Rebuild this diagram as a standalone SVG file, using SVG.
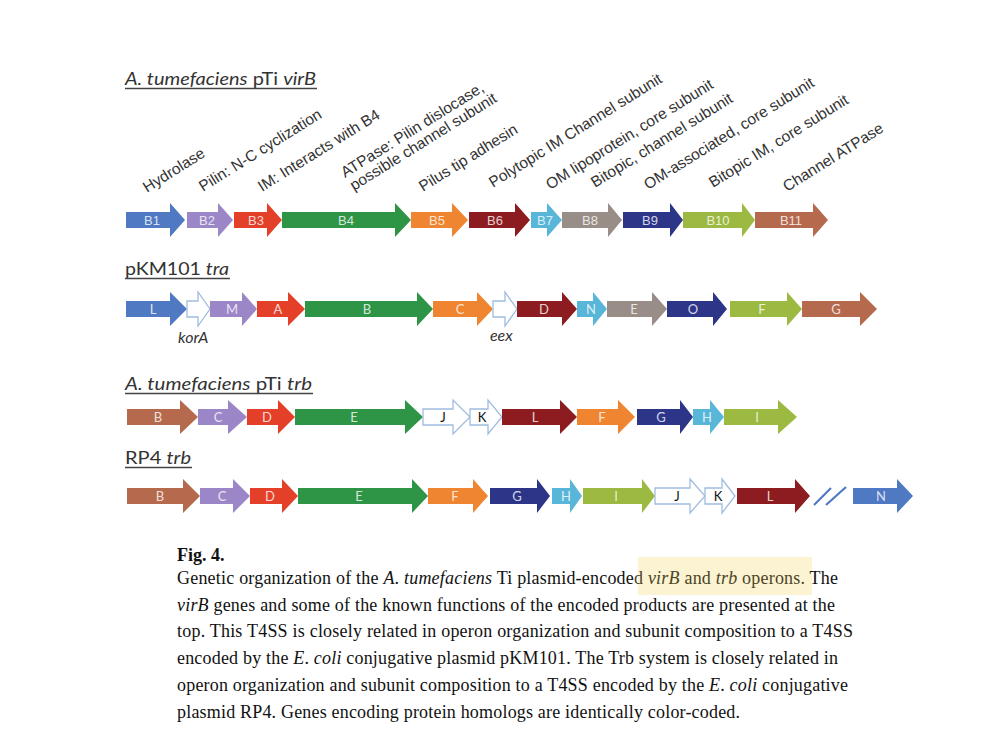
<svg xmlns="http://www.w3.org/2000/svg" width="1000" height="750" viewBox="0 0 1000 750">
<defs>
<style>
.ttl{font-family:Lato,"Open Sans","Liberation Sans",sans-serif;font-size:17px;fill:#333}
.ul{stroke:#444;stroke-width:1.3}
.fn{font-family:"Liberation Sans",Arial,sans-serif;font-size:15.5px;fill:#333}
.gl{font-family:"Liberation Sans",Arial,sans-serif;font-size:13px;fill:#fff;fill-opacity:0.8;text-anchor:middle}
.gl2{font-family:Lato,"Open Sans",sans-serif;font-size:13px;fill:#fff;fill-opacity:0.8;text-anchor:middle}
.glk{font-family:Lato,"Open Sans",sans-serif;font-size:13px;fill:#111;text-anchor:middle}
.it{font-style:italic}
.cap{font-family:"Liberation Serif","Times New Roman",serif;font-size:18px;fill:#111}
.blue{fill:#4f79c2}.lav{fill:#9b87c8}.red{fill:#e33f29}.grn{fill:#2e9446}.org{fill:#ef8530}
.drd{fill:#8c1c20}.lbl{fill:#58b6d9}.gry{fill:#988d87}.nav{fill:#2d3589}.olv{fill:#9cb941}.brn{fill:#b5694d}
.wht{fill:#fff;stroke:#9fbce0;stroke-width:1.3}
path{stroke-linejoin:miter}
</style>
</defs>
<rect width="1000" height="750" fill="#fff"/>

<!-- titles -->
<g id="title-virB">
<text class="ttl" x="125" y="85" textLength="191" lengthAdjust="spacingAndGlyphs"><tspan class="it">A. tumefaciens</tspan> pTi <tspan class="it">virB</tspan></text>
<line class="ul" x1="125" y1="88.5" x2="317" y2="88.5"/>
</g>
<g id="title-tra">
<text class="ttl" x="125" y="275" textLength="104" lengthAdjust="spacingAndGlyphs">pKM101 <tspan class="it">tra</tspan></text>
<line class="ul" x1="125" y1="278.5" x2="230" y2="278.5"/>
</g>
<g id="title-trb">
<text class="ttl" x="125" y="390" textLength="187" lengthAdjust="spacingAndGlyphs"><tspan class="it">A. tumefaciens</tspan> pTi <tspan class="it">trb</tspan></text>
<line class="ul" x1="125" y1="393.5" x2="313" y2="393.5"/>
</g>
<g id="title-rp4">
<text class="ttl" x="125" y="464" textLength="66" lengthAdjust="spacingAndGlyphs">RP4 <tspan class="it">trb</tspan></text>
<line class="ul" x1="125" y1="467.5" x2="192" y2="467.5"/>
</g>

<!-- function labels -->
<g id="functions" class="fn">
<text transform="translate(147,193) rotate(-32)">Hydrolase</text>
<text transform="translate(203,192) rotate(-32)">Pilin: N-C cyclization</text>
<text transform="translate(262,192) rotate(-32)">IM: Interacts with B4</text>
<text transform="translate(345,178) rotate(-32)">ATPase: Pilin dislocase,</text>
<text transform="translate(354,191) rotate(-32)">possible channel subunit</text>
<text transform="translate(423,192) rotate(-32)">Pilus tip adhesin</text>
<text transform="translate(493,188) rotate(-32)">Polytopic IM Channel subunit</text>
<text transform="translate(550,190) rotate(-32)">OM lipoprotein, core subunit</text>
<text transform="translate(595,188) rotate(-32)">Bitopic, channel subunit</text>
<text transform="translate(648,190) rotate(-32)">OM-associated, core subunit</text>
<text transform="translate(713,188) rotate(-32)">Bitopic IM, core subunit</text>
<text transform="translate(787,192) rotate(-32)">Channel ATPase</text>
</g>

<!-- row 1: virB, centre y 220 -->
<g id="virB-row">
<g id="B1"><path class="blue" d="M126,212 H170 V203 L185,220 L170,237 V228 H126 Z"/><text class="gl" x="152" y="224.5">B1</text></g>
<g id="B2"><path class="lav" d="M187,212 H218 V203 L233,220 L218,237 V228 H187 Z"/><text class="gl" x="207" y="224.5">B2</text></g>
<g id="B3"><path class="red" d="M234,212 H267 V203 L282,220 L267,237 V228 H234 Z"/><text class="gl" x="256" y="224.5">B3</text></g>
<g id="B4"><path class="grn" d="M282,212 H395 V203 L411,220 L395,237 V228 H282 Z"/><text class="gl" x="346" y="224.5">B4</text></g>
<g id="B5"><path class="org" d="M411,212 H452 V203 L468,220 L452,237 V228 H411 Z"/><text class="gl" x="437" y="224.5">B5</text></g>
<g id="B6"><path class="drd" d="M469,212 H515 V203 L530,220 L515,237 V228 H469 Z"/><text class="gl" x="495" y="224.5">B6</text></g>
<g id="B7"><path class="lbl" d="M531,212 H547 V203 L562,220 L547,237 V228 H531 Z"/><text class="gl" x="545" y="224.5">B7</text></g>
<g id="B8"><path class="gry" d="M562,212 H608 V203 L622,220 L608,237 V228 H562 Z"/><text class="gl" x="590" y="224.5">B8</text></g>
<g id="B9"><path class="nav" d="M623,212 H670 V203 L683,220 L670,237 V228 H623 Z"/><text class="gl" x="650" y="224.5">B9</text></g>
<g id="B10"><path class="olv" d="M683,212 H742 V203 L755,220 L742,237 V228 H683 Z"/><text class="gl" x="718" y="225">B10</text></g>
<g id="B11"><path class="brn" d="M755,212 H813 V203 L828,220 L813,237 V228 H755 Z"/><text class="gl" x="791" y="225">B11</text></g>
</g>

<!-- row 2: pKM101 tra, centre y 309 -->
<g id="tra-row">
<g id="traL"><path class="blue" d="M126,301 H170 V292 L187,309 L170,326 V317 H126 Z"/><text class="gl2" x="153" y="313.5">L</text></g>
<g id="korA"><path class="wht" d="M187,301 H198 V292 L210,309 L198,326 V317 H187 Z"/><text class="ttl it" x="178" y="343" style="font-size:16px">korA</text></g>
<g id="traM"><path class="lav" d="M210,301 H242 V292 L257,309 L242,326 V317 H210 Z"/><text class="gl2" x="232" y="313.5">M</text></g>
<g id="traA"><path class="red" d="M257,301 H288 V292 L305,309 L288,326 V317 H257 Z"/><text class="gl2" x="278" y="313.5">A</text></g>
<g id="traB"><path class="grn" d="M305,301 H417 V292 L433,309 L417,326 V317 H305 Z"/><text class="gl2" x="367" y="313.5">B</text></g>
<g id="traC"><path class="org" d="M433,301 H477 V292 L493,309 L477,326 V317 H433 Z"/><text class="gl2" x="460" y="313.5">C</text></g>
<g id="eex"><path class="wht" d="M493,301 H505 V292 L517,309 L505,326 V317 H493 Z"/><text class="ttl it" x="490" y="341" style="font-size:16px">eex</text></g>
<g id="traD"><path class="drd" d="M517,301 H562 V292 L577,309 L562,326 V317 H517 Z"/><text class="gl2" x="544" y="313.5">D</text></g>
<g id="traN"><path class="lbl" d="M577,301 H593 V292 L607,309 L593,326 V317 H577 Z"/><text class="gl2" x="591" y="313.5">N</text></g>
<g id="traE"><path class="gry" d="M607,301 H652 V292 L667,309 L652,326 V317 H607 Z"/><text class="gl2" x="634" y="313.5">E</text></g>
<g id="traO"><path class="nav" d="M667,301 H713 V292 L727,309 L713,326 V317 H667 Z"/><text class="gl2" x="693" y="313.5">O</text></g>
<g id="traF"><path class="olv" d="M730,301 H787 V292 L802,309 L787,326 V317 H730 Z"/><text class="gl2" x="762" y="313.5">F</text></g>
<g id="traG"><path class="brn" d="M802,301 H860 V292 L877,309 L860,326 V317 H802 Z"/><text class="gl2" x="836" y="313.5">G</text></g>
</g>

<!-- row 3: pTi trb, centre y 417 -->
<g id="trb-row">
<g id="trbB"><path class="brn" d="M127,409 H180 V400 L198,417 L180,434 V425 H127 Z"/><text class="gl2" x="158" y="421.5">B</text></g>
<g id="trbC"><path class="lav" d="M198,409 H228 V400 L247,417 L228,434 V425 H198 Z"/><text class="gl2" x="218" y="421.5">C</text></g>
<g id="trbD"><path class="red" d="M247,409 H278 V400 L295,417 L278,434 V425 H247 Z"/><text class="gl2" x="267" y="421.5">D</text></g>
<g id="trbE"><path class="grn" d="M295,409 H405 V400 L423,417 L405,434 V425 H295 Z"/><text class="gl2" x="354" y="421.5">E</text></g>
<g id="trbJ"><path class="wht" d="M423,409 H453 V400 L470,417 L453,434 V425 H423 Z"/><text class="glk" x="443" y="421.5">J</text></g>
<g id="trbK"><path class="wht" d="M470,409 H488 V400 L502,417 L488,434 V425 H470 Z"/><text class="glk" x="482" y="421.5">K</text></g>
<g id="trbL"><path class="drd" d="M502,409 H560 V400 L577,417 L560,434 V425 H502 Z"/><text class="gl2" x="535" y="421.5">L</text></g>
<g id="trbF"><path class="org" d="M577,409 H618 V400 L635,417 L618,434 V425 H577 Z"/><text class="gl2" x="602" y="421.5">F</text></g>
<g id="trbG"><path class="nav" d="M637,409 H680 V400 L693,417 L680,434 V425 H637 Z"/><text class="gl2" x="661" y="421.5">G</text></g>
<g id="trbH"><path class="lbl" d="M693,409 H710 V400 L724,417 L710,434 V425 H693 Z"/><text class="gl2" x="707" y="421.5">H</text></g>
<g id="trbI"><path class="olv" d="M724,409 H778 V400 L797,417 L778,434 V425 H724 Z"/><text class="gl2" x="757" y="421.5">I</text></g>
</g>

<!-- row 4: RP4 trb, centre y 496 -->
<g id="rp4-row">
<g id="rpB"><path class="brn" d="M127,488 H183 V479 L200,496 L183,513 V504 H127 Z"/><text class="gl2" x="160" y="500.5">B</text></g>
<g id="rpC"><path class="lav" d="M200,488 H233 V479 L250,496 L233,513 V504 H200 Z"/><text class="gl2" x="222" y="500.5">C</text></g>
<g id="rpD"><path class="red" d="M250,488 H282 V479 L298,496 L282,513 V504 H250 Z"/><text class="gl2" x="270" y="500.5">D</text></g>
<g id="rpE"><path class="grn" d="M298,488 H412 V479 L428,496 L412,513 V504 H298 Z"/><text class="gl2" x="359" y="500.5">E</text></g>
<g id="rpF"><path class="org" d="M428,488 H473 V479 L488,496 L473,513 V504 H428 Z"/><text class="gl2" x="455" y="500.5">F</text></g>
<g id="rpG"><path class="nav" d="M490,488 H537 V479 L550,496 L537,513 V504 H490 Z"/><text class="gl2" x="517" y="500.5">G</text></g>
<g id="rpH"><path class="lbl" d="M552,488 H570 V479 L582,496 L570,513 V504 H552 Z"/><text class="gl2" x="566" y="500.5">H</text></g>
<g id="rpI"><path class="olv" d="M583,488 H642 V479 L655,496 L642,513 V504 H583 Z"/><text class="gl2" x="616" y="500.5">I</text></g>
<g id="rpJ"><path class="wht" d="M655,488 H690 V479 L705,496 L690,513 V504 H655 Z"/><text class="glk" x="677" y="500.5">J</text></g>
<g id="rpK"><path class="wht" d="M705,488 H722 V479 L735,496 L722,513 V504 H705 Z"/><text class="glk" x="718" y="500.5">K</text></g>
<g id="rpL"><path class="drd" d="M737,488 H795 V479 L810,496 L795,513 V504 H737 Z"/><text class="gl2" x="770" y="500.5">L</text></g>
<g id="break" stroke="#4f79c2" stroke-width="2.2"><line x1="814" y1="505" x2="831" y2="488"/><line x1="826" y1="505" x2="846" y2="487"/></g>
<g id="rpN"><path class="blue" d="M853,488 H897 V479 L913,496 L897,513 V504 H853 Z"/><text class="gl2" x="881" y="500.5">N</text></g>
</g>

<!-- caption -->
<g id="caption">
<rect x="638" y="557" width="174" height="38" fill="#fbf3d1"/>
<text class="cap" x="177" y="561" font-weight="bold">Fig. 4.</text>
<text class="cap" x="177" y="584" textLength="661" lengthAdjust="spacing">Genetic organization of the <tspan class="it">A</tspan>. <tspan class="it">tumefaciens</tspan> Ti plasmid-encode<tspan fill="#4d4426">d <tspan class="it">virB</tspan> and <tspan class="it">trb</tspan> operons.</tspan> The</text>
<text class="cap" x="177" y="610.7" textLength="658" lengthAdjust="spacing"><tspan class="it">virB</tspan> genes and some of the known functions of the encoded products are presented at the</text>
<text class="cap" x="177" y="637.4" textLength="676" lengthAdjust="spacing">top. This T4SS is closely related in operon organization and subunit composition to a T4SS</text>
<text class="cap" x="177" y="664" textLength="661" lengthAdjust="spacing">encoded by the <tspan class="it">E</tspan>. <tspan class="it">coli</tspan> conjugative plasmid pKM101. The Trb system is closely related in</text>
<text class="cap" x="177" y="690.8" textLength="671" lengthAdjust="spacing">operon organization and subunit composition to a T4SS encoded by the <tspan class="it">E</tspan>. <tspan class="it">coli</tspan> conjugative</text>
<text class="cap" x="177" y="717.5" textLength="563" lengthAdjust="spacing">plasmid RP4. Genes encoding protein homologs are identically color-coded.</text>
</g>
</svg>
